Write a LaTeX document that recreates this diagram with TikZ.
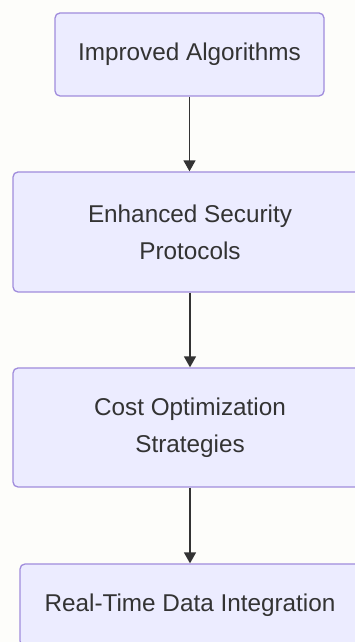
\documentclass[tikz,border=0pt]{standalone}
\usepackage{fontspec}
\setmainfont{Liberation Sans}
\usetikzlibrary{arrows.meta}
\definecolor{pagebg}{RGB}{253,253,250}
\definecolor{boxfill}{RGB}{236,236,255}
\definecolor{boxline}{RGB}{160,140,220}
\definecolor{ink}{RGB}{51,51,51}
\tikzset{
  stage/.style={draw=boxline, fill=boxfill, line width=1.3pt, rounded corners=5pt,
    inner sep=0pt, align=center, text=ink,
    font=\fontsize{24.3}{37}\selectfont},
  flow/.style={draw=ink, line width=1.5pt,
    -{Triangle[length=11pt,width=12pt]}}
}
\begin{document}
\begin{tikzpicture}[x=1pt,y=1pt]
  \path[use as bounding box, fill=pagebg] (0,0) rectangle (355,642);
  \clip (0,0) rectangle (355,642);

  \node[stage, minimum width=269pt, minimum height=83pt] (alg) at (189.5,587.5)
    {Improved Algorithms};
  \node[stage, minimum width=354pt, minimum height=120pt] (sec) at (190,410)
    {Enhanced Security\\Protocols};
  \node[stage, minimum width=354pt, minimum height=119pt] (cost) at (190,214.5)
    {Cost Optimization\\Strategies};
  \node[stage, minimum width=340pt, minimum height=82pt] (rt) at (190,37)
    {Real-Time Data Integration};

  \draw[flow] (alg.south) -- (alg.south |- sec.north);
  \draw[flow] (sec.south) -- (cost.north);
  \draw[flow] (cost.south) -- (rt.north);
\end{tikzpicture}
\end{document}
